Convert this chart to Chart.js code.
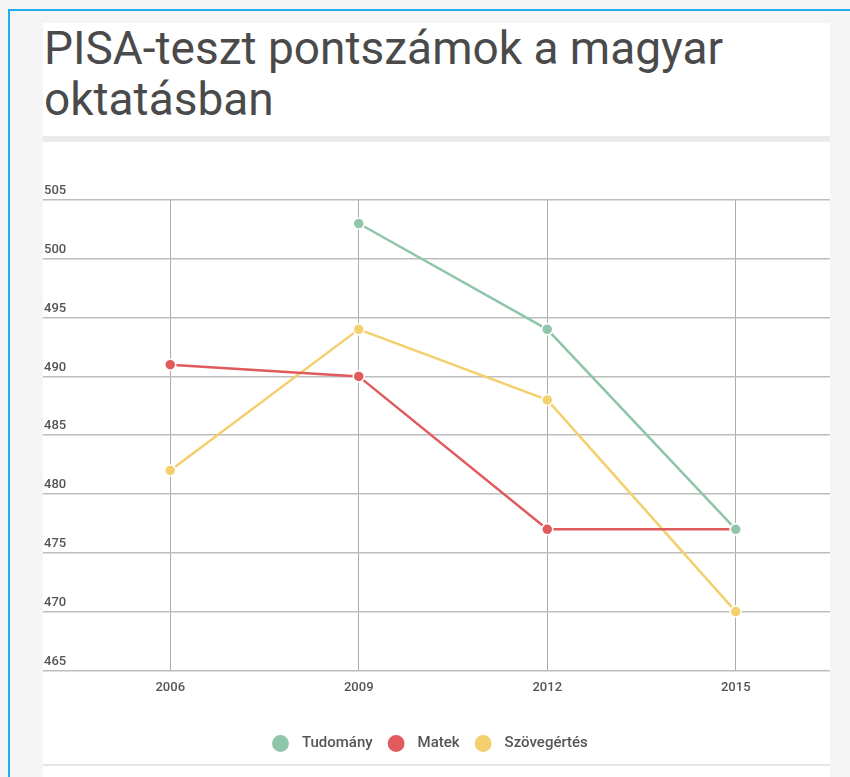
<!DOCTYPE html>
<html lang="hu">
<head>
<meta charset="utf-8">
<title>PISA-teszt pontszámok</title>
<script src="https://cdn.jsdelivr.net/npm/chart.js@4"></script>
<style>
  html, body { margin: 0; padding: 0; background: #f5f5f5; overflow: hidden; }
  .keret {
    position: absolute; left: 8px; top: 9px; width: 900px; height: 800px;
    border-left: 2px solid #1fb0ea; border-top: 2px solid #1fb0ea;
  }
  .kartya { position: absolute; left: 43px; top: 23px; width: 787px; }
  h1 {
    margin: 0; padding: 0 0 0 1px; height: 113px; background: #fff;
    font-family: Roboto, sans-serif; font-weight: 400; font-size: 46px;
    line-height: 51px; color: #4a4a4a;
  }
  .elvalaszto { height: 6px; background: #ebebeb; }
  .tarto { position: relative; height: 622px; background: #fff; border-bottom: 2px solid #e6e6e6; }
  .also { height: 20px; background: #fff; }
</style>
</head>
<body>
<div class="keret"></div>
<div class="kartya">
  <h1>PISA-teszt pontszámok a magyar<br>oktatásban</h1>
  <div class="elvalaszto"></div>
  <div class="tarto"><canvas id="pisaChart"></canvas></div>
  <div class="also"></div>
</div>
<script>
// adatok
const evek = ['2006', '2009', '2012', '2015'];
const tudomany = [null, 503, 494, 477];
const matek = [491, 490, 477, 477];
const szovegertes = [482, 494, 488, 470];

function sorozat(nev, adat, szin) {
    return {
        label: nev,
        data: adat,
        borderColor: szin,
        backgroundColor: szin,
        borderWidth: 2.5,
        pointRadius: 5.5,
        pointHoverRadius: 6,
        pointBorderColor: '#fff',
        pointBorderWidth: 1.5,
        tension: 0,
        fill: false
    };
}

const ctx = document.getElementById('pisaChart').getContext('2d');
new Chart(ctx, {
    type: 'line',
    data: {
        labels: evek,
        datasets: [
            sorozat('Tudomány', tudomany, '#8fc6aa'),
            sorozat('Matek', matek, '#e05a5e'),
            sorozat('Szövegértés', szovegertes, '#f3cf6d')
        ]
    },
    options: {
        responsive: true,
        maintainAspectRatio: false,
        animation: false,
        layout: { autoPadding: false, padding: { top: 58, right: 0, bottom: 3, left: 0 } },
        plugins: {
            legend: {
                position: 'bottom',
                labels: {
                    usePointStyle: true,
                    pointStyle: 'circle',
                    boxWidth: 13,
                    boxHeight: 13,
                    padding: 17,
                    color: '#555',
                    font: { family: 'Roboto', size: 15, weight: '500' },
                    // kis térköz a kör és a felirat között, a sor kicsit balra tolva
                    generateLabels: function(chart) {
                        const items = Chart.defaults.plugins.legend.labels.generateLabels(chart);
                        items.forEach(item => { item.text = '  ' + item.text; });
                        items[items.length - 1].text += '   ';
                        return items;
                    }
                }
            },
            tooltip: { mode: 'index', intersect: false }
        },
        scales: {
            x: {
                offset: true,
                border: { display: false },
                grid: { color: '#ababab', lineWidth: 1, drawTicks: false },
                ticks: {
                    padding: 10,
                    color: '#555',
                    font: { family: 'Roboto', size: 13, weight: '500' }
                },
                // hely a tengelyfeliratok és a jelmagyarázat között
                afterFit: function(scale) { scale.height += 13; }
            },
            y: {
                min: 465,
                max: 505,
                border: { display: false },
                grid: { color: '#bdbdbd', lineWidth: 1.5, tickLength: 97 },
                ticks: {
                    stepSize: 5,
                    mirror: true,
                    padding: -32,
                    labelOffset: -9,
                    color: '#555',
                    font: { family: 'Roboto', size: 13, weight: '500' }
                }
            }
        }
    }
});
</script>
</body>
</html>
